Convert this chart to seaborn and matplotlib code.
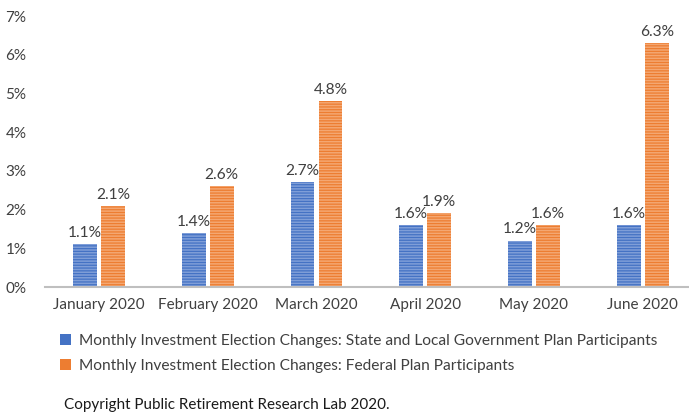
import matplotlib
matplotlib.use("Agg")
import matplotlib.pyplot as plt
import seaborn as sns
import pandas as pd
from matplotlib.patches import Patch
from matplotlib.ticker import FuncFormatter

months = ["January 2020", "February 2020", "March 2020", "April 2020", "May 2020", "June 2020"]
state_local = [1.1, 1.4, 2.7, 1.6, 1.2, 1.6]
federal = [2.1, 2.6, 4.8, 1.9, 1.6, 6.3]
series_names = [
    "Monthly Investment Election Changes: State and Local Government Plan Participants",
    "Monthly Investment Election Changes: Federal Plan Participants",
]
copyright_note = "Copyright Public Retirement Research Lab 2020."

blue = "#4472C4"
orange = "#ED7D31"
blue_fill = "#7F9ED8"
orange_fill = "#F4A772"

df = pd.DataFrame({
    "month": months * 2,
    "value": state_local + federal,
    "series": [series_names[0]] * len(months) + [series_names[1]] * len(months),
})

sns.set_style("white")
plt.rcParams["font.family"] = ["Lato", "DejaVu Sans"]
plt.rcParams["hatch.linewidth"] = 0.9

fig = plt.figure(figsize=(6.89, 4.15), dpi=100)
W, H = 689, 415
ax = fig.add_axes([44.6 / W, 1 - 287 / H, (697 - 44.6) / W, (287 - 16) / H])

sns.barplot(data=df, x="month", y="value", hue="series", order=months,
            hue_order=series_names, palette=[blue_fill, orange_fill],
            width=0.515, gap=0.15, legend=False, ax=ax, saturation=1)

# striped fill: light face with dense horizontal lines in the series colour
edge_cols = [blue] * len(months) + [orange] * len(months)
for patch, ec in zip(ax.patches, edge_cols):
    patch.set_hatch("------")
    patch.set_edgecolor(ec)
    patch.set_linewidth(0)

for container in ax.containers:
    ax.bar_label(container, labels=[f"{v:.1f}%" for v in container.datavalues],
                 padding=3, fontsize=11.2, color="#404040")

ax.set_ylim(0, 7)
ax.set_xlim(-0.5, len(months) - 0.5)
ax.set_yticks(range(0, 8))
ax.yaxis.set_major_formatter(FuncFormatter(lambda v, p: f"{int(v)}%"))
ax.set_xlabel("")
ax.set_ylabel("")
ax.tick_params(axis="both", length=0, labelsize=11, labelcolor="#404040")
ax.tick_params(axis="x", pad=8)
ax.tick_params(axis="y", pad=13)
for s in ["top", "right", "left"]:
    ax.spines[s].set_visible(False)
ax.spines["bottom"].set_color("#BFBFBF")
ax.spines["bottom"].set_linewidth(1.5)

handles = [Patch(facecolor=blue, edgecolor="none"), Patch(facecolor=orange, edgecolor="none")]
fig.legend(handles, series_names, loc="upper left", bbox_to_anchor=(54 / W, 1 - 328 / H),
           frameon=False, fontsize=11.2, labelcolor="#404040", handlelength=0.7,
           handleheight=0.7, handletextpad=0.5, labelspacing=0.7, borderaxespad=0)

fig.text(64 / W, 1 - 405 / H, copyright_note, fontsize=11, color="#1a1a1a", va="center")

fig.savefig("out.png", dpi=100)
